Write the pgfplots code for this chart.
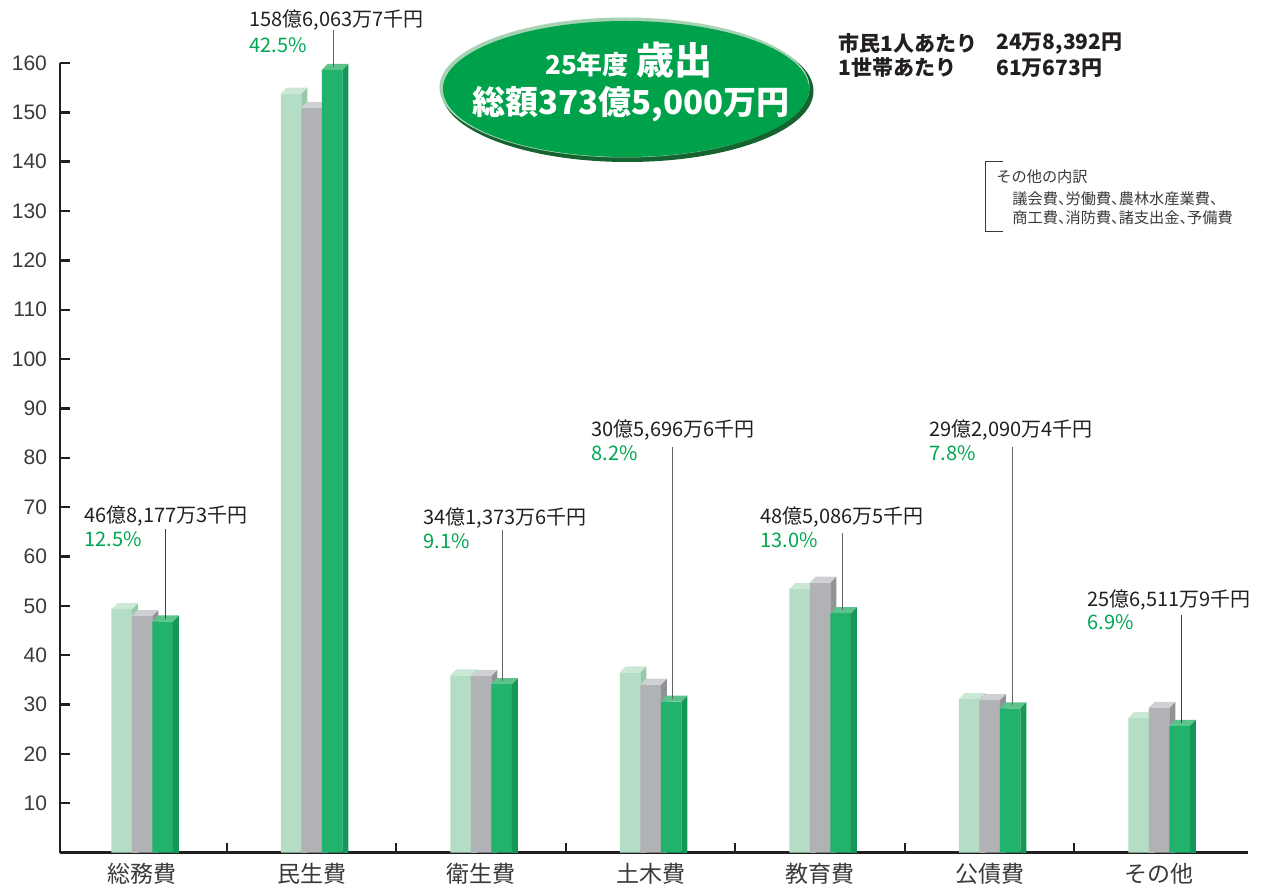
\documentclass[border=0pt]{standalone}
\usepackage{fontspec}
\setmainfont{Liberation Sans}
\newfontfamily\jp{Noto Sans CJK JP}
\newfontfamily\jpnote{Noto Sans CJK JP}[RawFeature=+halt]
\usepackage{pgfplots}
\pgfplotsset{compat=1.18}
\usepackage{pgfplotstable}

\definecolor{lightF}{HTML}{B3DDC4}
\definecolor{lightT}{HTML}{CBE8D6}
\definecolor{lightS}{HTML}{98C9AA}
\definecolor{grayF}{HTML}{B1B2B6}
\definecolor{grayT}{HTML}{CFD0D3}
\definecolor{grayS}{HTML}{929397}
\definecolor{greenF}{HTML}{21B26B}
\definecolor{greenT}{HTML}{5CC38B}
\definecolor{greenS}{HTML}{16975A}
\definecolor{axc}{HTML}{231F20}
\definecolor{tickc}{HTML}{3A3A3A}
\definecolor{pctc}{HTML}{00A651}
\definecolor{ellMain}{HTML}{00A14B}
\definecolor{ellDark}{HTML}{15632F}
\definecolor{ellLight}{HTML}{A8D2B4}

\newcommand\capmark[3]{%
  \pgfpathmoveto{\pgfqpoint{5.125pt}{0pt}}%
  \pgfpathlineto{\pgfqpoint{8.125pt}{3pt}}%
  \pgfpathlineto{\pgfqpoint{8.125pt}{-900pt}}%
  \pgfpathlineto{\pgfqpoint{5.125pt}{-900pt}}%
  \pgfpathclose
  \pgfsetfillcolor{#2}\pgfusepath{fill}%
  \pgfpathmoveto{\pgfqpoint{-5.125pt}{0pt}}%
  \pgfpathlineto{\pgfqpoint{5.125pt}{0pt}}%
  \pgfpathlineto{\pgfqpoint{8.125pt}{3pt}}%
  \pgfpathlineto{\pgfqpoint{-2.125pt}{3pt}}%
  \pgfpathclose
  \pgfsetfillcolor{#1}\pgfusepath{fill}}
\pgfdeclareplotmark{capL}{\capmark{lightT}{lightS}{}}
\pgfdeclareplotmark{capG}{\capmark{grayT}{grayS}{}}
\pgfdeclareplotmark{capN}{\capmark{greenT}{greenS}{}}

\pgfplotstableread{
i L G N
0 49.3 47.9 46.82
1 153.8 150.9 158.61
2 35.9 35.8 34.14
3 36.5 34.0 30.57
4 53.4 54.7 48.51
5 31.1 30.9 29.21
6 27.3 29.3 25.65
}\data

\newcommand\amt{\jp\fontsize{10}{12}\selectfont}
\newcommand\hdr{\jp\bfseries\fontsize{10.5}{12}\selectfont}
\newcommand\smallnote{\jpnote\fontsize{7.6}{9}\selectfont}

\begin{document}
\begin{tikzpicture}
\begin{axis}[name=ax,
  scale only axis, width=594pt, height=394.75pt,
  xmin=-0.484, xmax=6.525, ymin=0, ymax=160,
  axis lines=left,
  axis line style={-, line width=1.2pt, draw=axc},
  tick align=inside,
  tick style={line width=1.2pt, draw=axc},
  major tick length=5pt,
  ytick={10,20,...,160},
  yticklabel style={font=\fontsize{10.5}{12}\selectfont, text=tickc, xshift=-3pt},
  /pgf/number format/assume math mode=true,
  xtick={0.5,1.5,2.5,3.5,4.5,5.5},
  xticklabels={,,,,,},
  extra x ticks={0,1,2,3,4,5,6},
  extra x tick labels={総務費,民生費,衛生費,土木費,教育費,公債費,その他},
  extra x tick style={major tick length=0pt, tick style={draw=none},
     xticklabel style={font=\jp\fontsize{11.5}{13}\selectfont, text=tickc, yshift=-2pt}},
  clip marker paths=true,
]
\addplot[ybar, bar width=10.25pt, bar shift=0pt, fill=lightF, draw=none, mark=capL]
  table[x expr=\thisrow{i}-0.121, y=L]{\data};
\addplot[ybar, bar width=10.25pt, bar shift=0pt, fill=grayF, draw=none, mark=capG]
  table[x expr=\thisrow{i}, y=G]{\data};
\addplot[ybar, bar width=10.25pt, bar shift=0pt, fill=greenF, draw=none, mark=capN]
  table[x expr=\thisrow{i}+0.121, y=N]{\data};
\end{axis}

\begin{scope}[shift={(ax.south west)}, x=0.5pt, y=-0.5pt, shift={(-60,-852.5)}]
  % leader lines
  \draw[line width=0.5pt, draw=axc!85] (165,529) -- (165,618.5);
  \draw[line width=0.5pt, draw=axc!70] (333,30) -- (333,67);
  \draw[line width=0.5pt, draw=axc!70] (502,530) -- (502,681);
  \draw[line width=0.5pt, draw=axc!70] (672,447) -- (672,699);
  \draw[line width=0.5pt, draw=axc!70] (842,533) -- (842,610);
  \draw[line width=0.5pt, draw=axc!70] (1012,447) -- (1012,705);
  \draw[line width=0.5pt, draw=axc!85] (1181,615) -- (1181,723);
  % amounts
  \begin{scope}[every node/.style={anchor=west, inner sep=0pt, font=\amt, text=axc}]
    \node at (84,516) {46億8,177万3千円};
    \node at (249,20) {158億6,063万7千円};
    \node at (423,518) {34億1,373万6千円};
    \node at (591,430) {30億5,696万6千円};
    \node at (760,517) {48億5,086万5千円};
    \node at (929,430) {29億2,090万4千円};
    \node at (1087,600) {25億6,511万9千円};
  \end{scope}
  \begin{scope}[every node/.style={anchor=west, inner sep=0pt, font=\amt, text=pctc}]
    \node at (84,539) {12.5\%};
    \node at (249,45) {42.5\%};
    \node at (423,541) {9.1\%};
    \node at (591,453) {8.2\%};
    \node at (760,540) {13.0\%};
    \node at (929,453) {7.8\%};
    \node at (1087,622) {6.9\%};
  \end{scope}
  % ellipse
  \fill[ellDark] (627.5,91) ellipse [x radius=93pt, y radius=35.5pt];
  \fill[ellLight] (624.5,87.5) ellipse [x radius=92.5pt, y radius=35pt];
  \fill[ellMain] (626,89) ellipse [x radius=91.5pt, y radius=34pt];
  \node[anchor=base, inner sep=0pt, text=white, font=\jp\bfseries] at (629,75)
    {{\fontsize{13}{15}\selectfont 25年度}\hspace{4pt}{\fontsize{19}{21}\selectfont 歳出}};
  \node[anchor=base, inner sep=0pt, text=white, font=\jp\bfseries\fontsize{16.5}{18}\selectfont] at (631,115)
    {総額373億5,000万円};
  % header right
  \begin{scope}[every node/.style={anchor=west, inner sep=0pt, font=\hdr, text=axc}]
    \node at (838,44) {市民1人あたり};
    \node at (996,44) {24万8,392円};
    \node at (838,68) {1世帯あたり};
    \node at (996,68) {61万673円};
  \end{scope}
  % note
  \draw[line width=0.5pt, draw=tickc] (1003,161.7) -- (985,161.7) -- (985,231.7) -- (1003,231.7);
  \begin{scope}[every node/.style={anchor=west, inner sep=0pt, font=\smallnote, text=tickc}]
    \node at (996,177) {その他の内訳};
    \node at (1012,199) {議会費、労働費、農林水産業費、};
    \node at (1012,218) {商工費、消防費、諸支出金、予備費};
  \end{scope}
  \pgfresetboundingbox
  \path[use as bounding box] (0,0) rectangle (1263,890);
\end{scope}
\end{tikzpicture}
\end{document}
